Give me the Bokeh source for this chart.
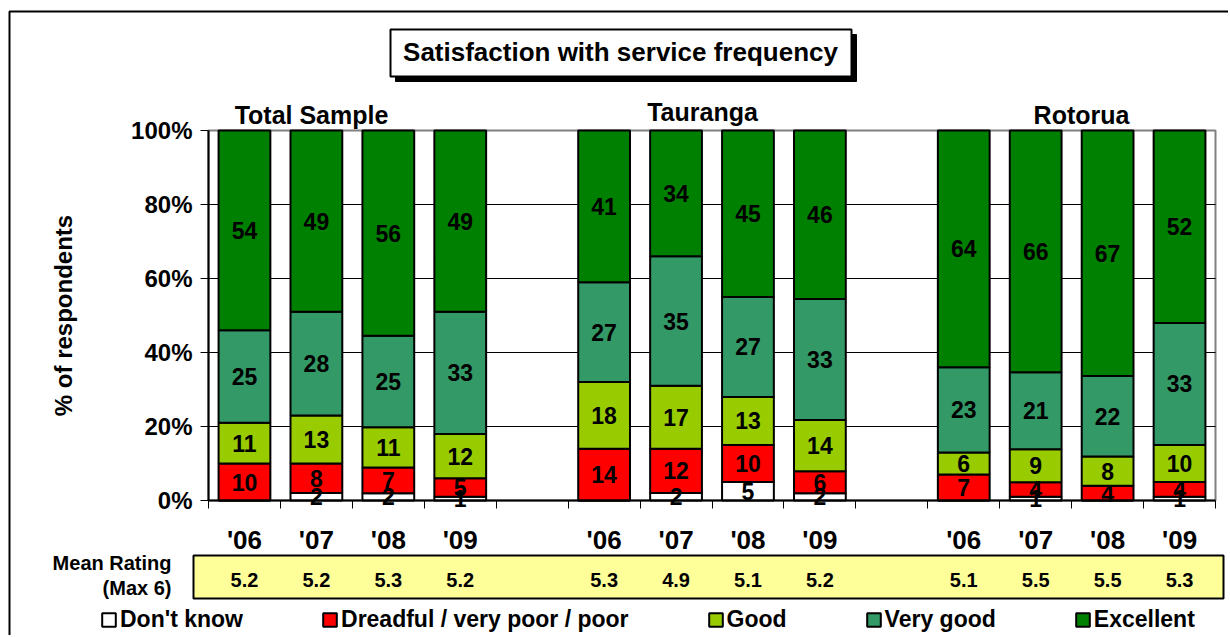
import numpy as np
from bokeh.plotting import figure
from bokeh.models import (ColumnDataSource, Label, FixedTicker, PrintfTickFormatter, Range1d)
from bokeh.core.properties import value
from bokeh.embed import file_html
from bokeh.resources import INLINE

# ---------------- data ----------------
groups = ["Total Sample", "Tauranga", "Rotorua"]
years = ["'06", "'07", "'08", "'09"]
segments = ["Don't know", "Dreadful / very poor / poor", "Good", "Very good", "Excellent"]
colors = ["#FFFFFF", "#FF0000", "#99CC00", "#339966", "#008000"]

dont_know = [0, 2, 2, 1, 0, 2, 5, 2, 0, 1, 0, 1]
poor = [10, 8, 7, 5, 14, 12, 10, 6, 7, 4, 4, 4]
good = [11, 13, 11, 12, 18, 17, 13, 14, 6, 9, 8, 10]
very_good = [25, 28, 25, 33, 27, 35, 27, 33, 23, 21, 22, 33]
excellent = [54, 49, 56, 49, 41, 34, 45, 46, 64, 66, 67, 52]
mean_rating = [5.2, 5.2, 5.3, 5.2, 5.3, 4.9, 5.1, 5.2, 5.1, 5.5, 5.5, 5.3]

series = [dont_know, poor, good, very_good, excellent]

# ---------------- layout helpers (pixel -> data) ----------------
FONT = "Liberation Sans"
W, H = 1228, 635
FL, FR, FT, FB = 208, 1215, 130, 500   # plot area edges in px
NSLOTS = 14
XPER = (FR - FL) / NSLOTS
YPER = (FB - FT) / 100.0


def px2x(px):
    return (px - FL) / XPER


def px2y(py):
    return (FB - py) / YPER


centers = []
for g in range(len(groups)):
    for yi in range(len(years)):
        centers.append(g * (len(years) + 1) + yi + 0.5)

vals = np.array(series, dtype=float)
totals = vals.sum(axis=0)
norm = vals / totals * 100.0
tops = np.cumsum(norm, axis=0)
bottoms = tops - norm

p = figure(width=W, height=H, x_range=Range1d(px2x(0), px2x(W)),
           y_range=Range1d(px2y(H), px2y(0)),
           output_backend="svg", toolbar_location=None, min_border=0)
p.background_fill_color = "white"
p.border_fill_color = "white"
p.outline_line_color = None

# outer chart border
p.quad(left=[px2x(9)], right=[px2x(W + 40)], top=[px2y(11)], bottom=[px2y(H + 40)],
       fill_color=None, line_color="black", line_width=2, level="underlay")

# plot area border (grey)
p.quad(left=[0], right=[NSLOTS], bottom=[0], top=[100], fill_color=None,
       line_color="#808080", line_width=2, level="underlay")

# grid lines
p.xgrid.visible = False
p.ygrid.ticker = FixedTicker(ticks=[20, 40, 60, 80])
p.ygrid.grid_line_color = "black"
p.ygrid.grid_line_width = 1
if "cross_bounds" in p.ygrid[0].properties():
    p.ygrid.cross_bounds = (0, NSLOTS)
else:
    p.ygrid.visible = False
    gy = [20, 40, 60, 80]
    p.segment(x0=[0] * len(gy), x1=[NSLOTS] * len(gy), y0=gy, y1=gy,
              line_color="black", line_width=1, level="underlay")

# bars
for k, name in enumerate(segments):
    src = ColumnDataSource(dict(x=centers, bottom=bottoms[k], top=tops[k]))
    p.vbar(x="x", bottom="bottom", top="top", width=0.72, source=src,
           fill_color=colors[k], line_color="black", line_width=2, legend_label=name)

# value labels
lx, ly, lt = [], [], []
for k in range(len(segments)):
    for i, c in enumerate(centers):
        if series[k][i] > 0:
            lx.append(c)
            ly.append((bottoms[k][i] + tops[k][i]) / 2)
            lt.append(str(series[k][i]))
p.text(x="x", y="y", text="t", source=ColumnDataSource(dict(x=lx, y=ly, t=lt)),
       text_align="center", text_baseline="middle", text_font=value(FONT),
       text_font_style="bold", text_font_size="23px", text_color="black")

# axes (drawn at the plot-area edges)
p.yaxis.fixed_location = 0
p.yaxis.bounds = (0, 100)
p.yaxis.ticker = FixedTicker(ticks=[0, 20, 40, 60, 80, 100])
p.yaxis.formatter = PrintfTickFormatter(format="%d%%")
p.yaxis.major_tick_out = 8
p.yaxis.major_tick_in = 0
p.yaxis.minor_tick_line_color = None
p.yaxis.axis_line_width = 2
p.yaxis.axis_line_color = "black"
p.yaxis.major_tick_line_color = "black"
p.yaxis.major_label_text_font = FONT
p.yaxis.major_label_text_font_style = "bold"
p.yaxis.major_label_text_font_size = "24px"
p.yaxis.major_label_text_color = "black"
p.yaxis.major_label_standoff = 8
p.yaxis.axis_label = "% of respondents"
p.yaxis.axis_label_text_font = FONT
p.yaxis.axis_label_text_font_style = "bold"
p.yaxis.axis_label_text_font_size = "24px"
p.yaxis.axis_label_text_color = "black"
p.yaxis.axis_label_standoff = 51

p.xaxis.fixed_location = 0
p.xaxis.bounds = (0, NSLOTS)
p.xaxis.ticker = FixedTicker(ticks=centers, minor_ticks=list(range(NSLOTS + 1)))
p.xaxis.major_label_overrides = {c: years[i % len(years)] for i, c in enumerate(centers)}
p.xaxis.major_tick_out = 0
p.xaxis.major_tick_in = 0
p.xaxis.minor_tick_out = 8
p.xaxis.minor_tick_in = 0
p.xaxis.minor_tick_line_color = "black"
p.xaxis.minor_tick_line_width = 1
p.xaxis.axis_line_width = 2
p.xaxis.axis_line_color = "black"
p.xaxis.major_label_standoff = 16
p.xaxis.major_label_text_font = FONT
p.xaxis.major_label_text_font_style = "bold"
p.xaxis.major_label_text_font_size = "26px"
p.xaxis.major_label_text_color = "black"

# title box with shadow
p.quad(left=[px2x(395)], right=[px2x(856)], top=[px2y(34)], bottom=[px2y(81)],
       fill_color="black", line_color="black")
p.quad(left=[px2x(390)], right=[px2x(851)], top=[px2y(29)], bottom=[px2y(76)],
       fill_color="white", line_color="black", line_width=2)
p.add_layout(Label(x=px2x(620), y=px2y(51), text="Satisfaction with service frequency",
                   text_align="center", text_baseline="middle", text_font=FONT,
                   text_font_style="bold", text_font_size="26px", text_color="black"))

# group titles
for name, cx, cy in zip(groups, [311, 702, 1081], [114, 111, 114]):
    p.add_layout(Label(x=px2x(cx), y=px2y(cy), text=name, text_align="center",
                       text_baseline="middle", text_font=FONT, text_font_style="bold",
                       text_font_size="25px", text_color="black"))

# mean rating row
p.quad(left=[px2x(193)], right=[px2x(1223)], top=[px2y(555)], bottom=[px2y(598)],
       fill_color="#FFFF99", line_color="black", line_width=2)
p.text(x="x", y="y", text="t",
       source=ColumnDataSource(dict(x=centers, y=[px2y(579)] * len(centers),
                                    t=["%.1f" % v for v in mean_rating])),
       text_align="center", text_baseline="middle", text_font=value(FONT),
       text_font_style="bold", text_font_size="20px", text_color="black")
p.add_layout(Label(x=px2x(171), y=px2y(562), text="Mean Rating", text_align="right",
                   text_baseline="middle", text_font=FONT, text_font_style="bold",
                   text_font_size="20px", text_color="black"))
p.add_layout(Label(x=px2x(171), y=px2y(587), text="(Max 6)", text_align="right",
                   text_baseline="middle", text_font=FONT, text_font_style="bold",
                   text_font_size="20px", text_color="black"))

# legend
lg = p.legend[0]
lg.orientation = "horizontal"
lg.location = (100, H - 633)
lg.label_text_font = FONT
lg.label_text_font_style = "bold"
lg.label_text_font_size = "23px"
lg.label_text_color = "black"
lg.glyph_width = 17
lg.glyph_height = 17
lg.label_standoff = 3
lg.spacing = 78
lg.padding = 0
lg.margin = 0
lg.border_line_color = None
lg.background_fill_alpha = 0
lg.label_height = 20

open("out.html", "w").write(file_html(p, INLINE))
